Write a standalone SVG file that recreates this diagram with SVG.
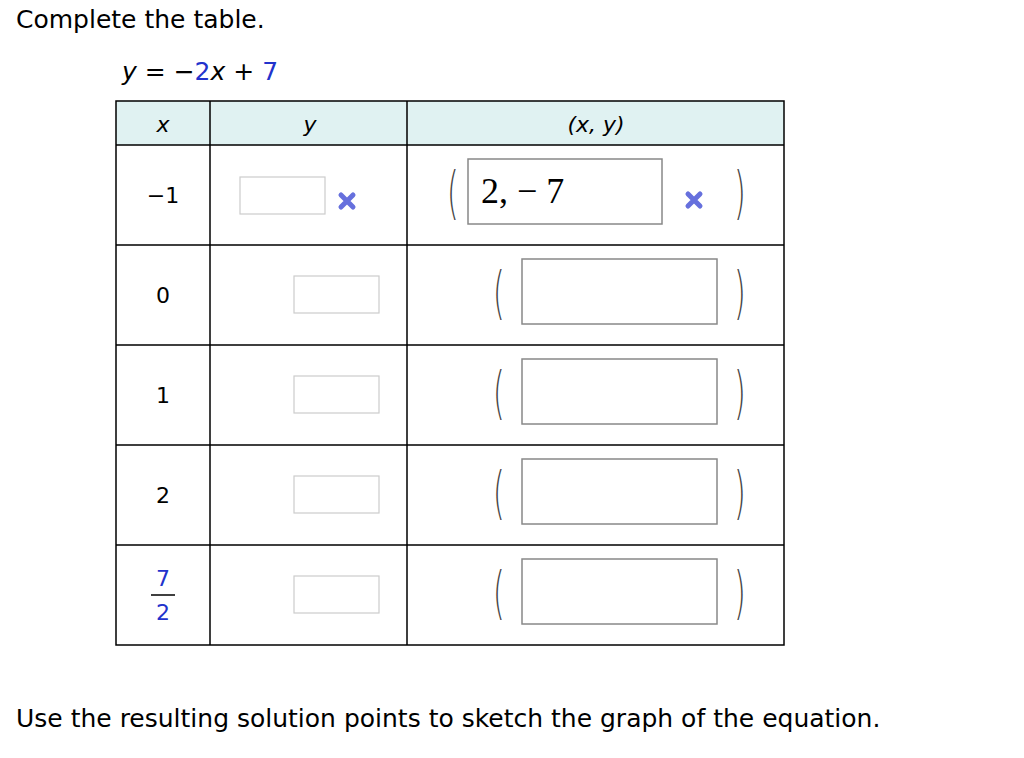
<svg xmlns="http://www.w3.org/2000/svg" width="1024" height="758" viewBox="0 0 1024 758">
<style>
.t{font-family:Verdana,"DejaVu Sans",sans-serif;font-size:25px;fill:#000}
.c{font-size:22px}
.i{font-style:italic}
.b{fill:#2233cc}
.g{stroke:#000;stroke-width:1.5;fill:none}
.yb{fill:#fff;stroke:#ccc;stroke-width:1.2}
.pb{fill:#fff;stroke:#888;stroke-width:1.5}
.p{font-family:"DejaVu Sans",sans-serif;font-weight:300;font-size:30px;fill:#444}
.x{stroke:#6670dd;stroke-width:5;stroke-linecap:round}
</style>
<rect width="1024" height="758" fill="#fff"/>
<text class="t" x="16" y="28">Complete the table.</text>
<text class="t" x="122" y="80"><tspan class="i">y</tspan> = −<tspan class="b">2</tspan><tspan class="i">x</tspan> + <tspan class="b">7</tspan></text>
<rect x="116" y="101" width="668" height="44" fill="#e0f2f2"/>
<g class="g">
<rect x="116" y="101" width="668" height="544"/>
<path d="M116 145H784M116 245H784M116 345H784M116 445H784M116 545H784M210 101V645M407 101V645"/>
</g>
<g class="t c i" text-anchor="middle">
<text x="163" y="132">x</text><text x="310" y="132">y</text><text x="596" y="132">(x, y)</text>
</g>
<g id="r1">
<text class="t c" x="163" y="203" text-anchor="middle">−1</text>
<rect class="yb" x="240" y="177" width="85" height="37"/>
<path class="x" d="M341 195l12 12M353 195l-12 12"/>
<text class="p" transform="translate(447 212) scale(1 1.9)">(</text>
<rect class="pb" x="468" y="159" width="194" height="65"/>
<text x="481" y="203" style="font-family:'Liberation Serif',serif;font-size:36px">2, − 7</text>
<path class="x" d="M688 194l12 12M700 194l-12 12"/>
<text class="p" transform="translate(734 212) scale(1 1.9)">)</text>
</g>
<g id="r2">
<text class="t c" x="163" y="303" text-anchor="middle">0</text>
<rect class="yb" x="294" y="276" width="85" height="37"/>
<text class="p" transform="translate(493 312) scale(1 1.9)">(</text>
<rect class="pb" x="522" y="259" width="195" height="65"/>
<text class="p" transform="translate(734 312) scale(1 1.9)">)</text>
</g>
<g id="r3">
<text class="t c" x="163" y="403" text-anchor="middle">1</text>
<rect class="yb" x="294" y="376" width="85" height="37"/>
<text class="p" transform="translate(493 412) scale(1 1.9)">(</text>
<rect class="pb" x="522" y="359" width="195" height="65"/>
<text class="p" transform="translate(734 412) scale(1 1.9)">)</text>
</g>
<g id="r4">
<text class="t c" x="163" y="503" text-anchor="middle">2</text>
<rect class="yb" x="294" y="476" width="85" height="37"/>
<text class="p" transform="translate(493 512) scale(1 1.9)">(</text>
<rect class="pb" x="522" y="459" width="195" height="65"/>
<text class="p" transform="translate(734 512) scale(1 1.9)">)</text>
</g>
<g id="r5">
<text class="t c b" x="163" y="586" text-anchor="middle">7</text>
<path d="M151 595H175" stroke="#000" stroke-width="1.5"/>
<text class="t c b" x="163" y="620" text-anchor="middle">2</text>
<rect class="yb" x="294" y="576" width="85" height="37"/>
<text class="p" transform="translate(493 612) scale(1 1.9)">(</text>
<rect class="pb" x="522" y="559" width="195" height="65"/>
<text class="p" transform="translate(734 612) scale(1 1.9)">)</text>
</g>
<text class="t" x="16" y="727">Use the resulting solution points to sketch the graph of the equation.</text>
</svg>
